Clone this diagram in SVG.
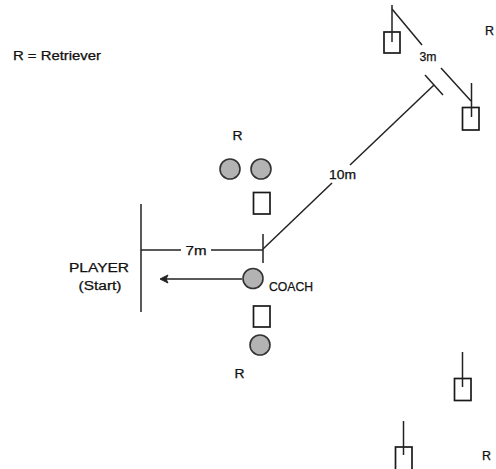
<svg xmlns="http://www.w3.org/2000/svg" width="496" height="469" viewBox="0 0 496 469">
<style>
.ln{stroke:#222;stroke-width:1.5;fill:none}
.bx{stroke:#1a1a1a;stroke-width:1.7;fill:#fff}
.ci{stroke:#333;stroke-width:1.6;fill:#b3b3b3}
text{font-family:"Liberation Sans",Arial,sans-serif;font-size:12px;fill:#111;stroke:#111;stroke-width:0.25}
</style>
<rect width="496" height="469" fill="#fff"/>
<text x="13" y="60" textLength="88" lengthAdjust="spacingAndGlyphs">R = Retriever</text>
<g id="connectors">
<line class="ln" x1="392" y1="9" x2="422" y2="45"/>
<line class="ln" x1="441" y1="68" x2="471" y2="101"/>
<line class="ln" x1="263" y1="249" x2="332" y2="183"/>
<line class="ln" x1="350" y1="165" x2="434" y2="85"/>
<line class="ln" x1="425" y1="75" x2="443" y2="95"/>
<line class="ln" x1="141" y1="250" x2="181" y2="250"/>
<line class="ln" x1="211" y1="250" x2="263" y2="250"/>
<line class="ln" x1="263" y1="234" x2="263" y2="263"/>
<line class="ln" x1="141" y1="204" x2="141" y2="312"/>
<line class="ln" x1="242" y1="279" x2="163" y2="279"/>
<path d="M160 279 L168 275 L166 279 L168 283 Z" fill="#222" stroke="#222" stroke-width="1"/>
</g>
<g id="flag-tl">
<rect class="bx" x="384" y="32" width="16" height="21"/>
<line class="ln" x1="392" y1="5" x2="392" y2="42"/>
</g>
<g id="flag-tr">
<rect class="bx" x="462.5" y="107.5" width="16.5" height="22.5"/>
<line class="ln" x1="471.5" y1="83" x2="471.5" y2="117"/>
</g>
<g id="flag-br1">
<rect class="bx" x="454.5" y="378.5" width="16.5" height="22"/>
<line class="ln" x1="462.5" y1="352" x2="462.5" y2="387"/>
</g>
<g id="flag-br2">
<rect class="bx" x="395.5" y="447" width="16.5" height="24"/>
<line class="ln" x1="403.5" y1="421" x2="403.5" y2="455"/>
</g>
<g id="retrievers-top">
<text x="237.5" y="140" text-anchor="middle" textLength="10" lengthAdjust="spacingAndGlyphs">R</text>
<circle class="ci" cx="230" cy="169" r="10"/>
<circle class="ci" cx="261" cy="169" r="10"/>
</g>
<g id="box-top"><rect class="bx" x="253.5" y="192.5" width="16.5" height="21.5"/></g>
<g id="coach">
<circle class="ci" cx="253" cy="278.5" r="10"/>
<text x="269" y="291" textLength="44" lengthAdjust="spacingAndGlyphs" font-size="11">COACH</text>
</g>
<g id="box-mid"><rect class="bx" x="253.5" y="306" width="16.5" height="21"/></g>
<g id="retriever-bottom">
<circle class="ci" cx="260" cy="345" r="10"/>
<text x="239.5" y="378" text-anchor="middle" textLength="10" lengthAdjust="spacingAndGlyphs">R</text>
</g>
<g id="player">
<text x="99" y="272" text-anchor="middle" textLength="60" lengthAdjust="spacingAndGlyphs">PLAYER</text>
<text x="100" y="290" text-anchor="middle" textLength="43" lengthAdjust="spacingAndGlyphs">(Start)</text>
</g>
<text x="196" y="255" text-anchor="middle" textLength="21" lengthAdjust="spacingAndGlyphs">7m</text>
<text x="342.5" y="179" text-anchor="middle" textLength="27" lengthAdjust="spacingAndGlyphs">10m</text>
<text x="428" y="61" text-anchor="middle" textLength="17" lengthAdjust="spacingAndGlyphs">3m</text>
<text x="485" y="35" textLength="9" lengthAdjust="spacingAndGlyphs">R</text>
<text x="482" y="460" textLength="9" lengthAdjust="spacingAndGlyphs">R</text>
</svg>
